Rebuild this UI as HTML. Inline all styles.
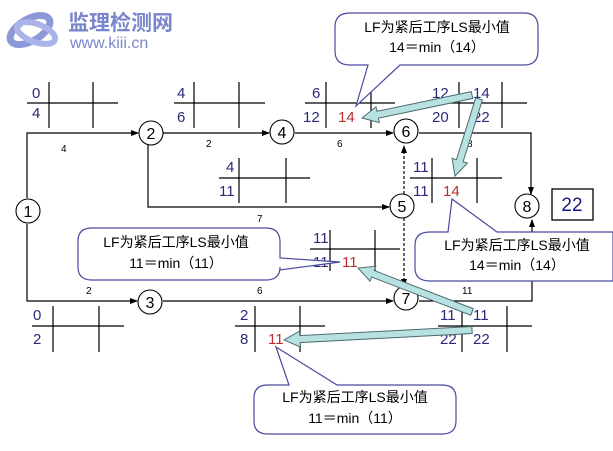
<!DOCTYPE html>
<html><head><meta charset="utf-8"><style>
html,body{margin:0;padding:0;background:#fff;}
svg{display:block;}
text{font-family:"Liberation Sans","Noto Sans CJK SC",sans-serif;}
.n{font-size:15px;fill:#2a2a7a;}
.r{font-size:15px;fill:#b83030;}
.e{font-size:10px;fill:#000;}
.c{font-size:14px;fill:#000;text-anchor:middle;}
.nd{font-size:16px;fill:#000;text-anchor:middle;}
</style></head><body>
<svg id="s" width="613" height="451" viewBox="0 0 613 451" xmlns="http://www.w3.org/2000/svg">
<defs><marker id="a" markerWidth="8" markerHeight="8" refX="7" refY="4" orient="auto" markerUnits="userSpaceOnUse"><path d="M0,1 L8,4 L0,7z" fill="#000"/></marker></defs>
<g>
<ellipse cx="30" cy="30" rx="22" ry="11" fill="none" stroke="#8c98d8" stroke-width="7" transform="rotate(-30 30 30)"/>
<ellipse cx="36" cy="33" rx="20" ry="9" fill="none" stroke="#aab4e8" stroke-width="6" transform="rotate(20 36 33)"/>
<text x="68" y="30" style="font-size:21px;font-weight:bold;fill:#7a86cc;">监理检测网</text>
<text x="70" y="48" style="font-size:16px;fill:#7a86cc;">www.kiii.cn</text>
</g>
<g stroke="#000" stroke-width="1.2" fill="none">
<polyline points="27,198 27,133 138,133" marker-end="url(#a)"/>
<polyline points="27,224 27,301 137,301" marker-end="url(#a)"/>
<line x1="163" y1="133" x2="269" y2="133" marker-end="url(#a)"/>
<polyline points="148,145 148,207 389,207" marker-end="url(#a)"/>
<line x1="295" y1="133" x2="393" y2="133" marker-end="url(#a)"/>
<polyline points="419,133 531,133 531,194" marker-end="url(#a)"/>
<line x1="404" y1="194" x2="404" y2="146" stroke-dasharray="3,2" marker-end="url(#a)"/>
<line x1="404" y1="218" x2="404" y2="286" stroke-dasharray="3,2" marker-end="url(#a)"/>
<line x1="163" y1="301" x2="393" y2="301" marker-end="url(#a)"/>
<polyline points="419,301 532,301 532,220" marker-end="url(#a)"/>
<path d="M27,103H118M49,82V128M93,82V128"/>
<path d="M174,103H265M194,82V128M239,82V128"/>
<path d="M219,178H310M239,158V203M286,158V203"/>
<path d="M305,103H395M326,82V128M371,82V128"/>
<path d="M432,103H527M459,82V128M502,82V128"/>
<path d="M410,178H502M432,158V203M477,158V203"/>
<path d="M310,249H400M330,230V271M375,230V271"/>
<path d="M32,326H124M53,306V352M99,306V352"/>
<path d="M235,326H325M255,306V352M300,306V352"/>
<path d="M438,326H532M462,306V352M507,306V352"/>
<rect x="552" y="189" width="41" height="31" stroke-width="1.3"/>
</g>
<g fill="#fff" stroke="#000" stroke-width="1.1">
<circle cx="28" cy="211" r="12"/><circle cx="151" cy="133" r="12"/><circle cx="150" cy="302" r="12"/>
<circle cx="282" cy="132" r="12"/><circle cx="402" cy="206" r="12"/><circle cx="406" cy="131" r="12"/>
<circle cx="406" cy="298" r="12"/><circle cx="527" cy="206" r="12"/>
</g>
<g>
<text class="nd" x="28" y="217">1</text><text class="nd" x="151" y="139">2</text><text class="nd" x="150" y="308">3</text>
<text class="nd" x="282" y="138">4</text><text class="nd" x="402" y="212">5</text><text class="nd" x="406" y="137">6</text>
<text class="nd" x="406" y="304">7</text><text class="nd" x="527" y="212">8</text>
<text x="572" y="211" style="font-size:19px;fill:#1a1a80;text-anchor:middle;">22</text>
<text class="e" x="61" y="152">4</text><text class="e" x="206" y="147">2</text><text class="e" x="257" y="222">7</text>
<text class="e" x="337" y="147">6</text><text class="e" x="467" y="147">8</text>
<text class="e" x="86" y="294">2</text><text class="e" x="257" y="294">6</text><text class="e" x="462" y="294">11</text>
<text class="n" x="32" y="98">0</text><text class="n" x="32" y="118">4</text>
<text class="n" x="177" y="98">4</text><text class="n" x="177" y="122">6</text>
<text class="n" x="226" y="172">4</text><text class="n" x="219" y="196">11</text>
<text class="n" x="312" y="98">6</text><text class="n" x="303" y="122">12</text><text class="r" x="338" y="122">14</text>
<text class="n" x="432" y="98">12</text><text class="n" x="473" y="98">14</text><text class="n" x="432" y="122">20</text><text class="n" x="473" y="122">22</text>
<text class="n" x="413" y="172">11</text><text class="n" x="413" y="196">11</text><text class="r" x="443" y="196">14</text>
<text class="n" x="313" y="243">11</text><text class="n" x="313" y="267">11</text><text class="r" x="342" y="267">11</text>
<text class="n" x="33" y="320">0</text><text class="n" x="33" y="344">2</text>
<text class="n" x="240" y="320">2</text><text class="n" x="240" y="344">8</text><text class="r" x="268" y="344">11</text>
<text class="n" x="440" y="320">11</text><text class="n" x="473" y="320">11</text><text class="n" x="440" y="344">22</text><text class="n" x="473" y="344">22</text>
</g>
<g fill="#fff" stroke="#4a4aa0" stroke-width="1.2">
<path d="M350,13 H524 Q538,13 538,27 V51 Q538,65 524,65 H400 L356,106 L368,65 H350 Q335,65 335,51 V27 Q335,13 350,13z"/>
<path d="M92,228 H266 Q280,228 280,242 V258 L340,262 L280,270 V267 Q280,280 266,280 H92 Q78,280 78,267 V241 Q78,228 92,228z"/>
<path d="M430,232 H448 L452,199 L497,232 H613 V281 H430 Q415,281 415,268 V245 Q415,232 430,232z"/>
<path d="M268,385 H289 L276,347 L337,385 H442 Q456,385 456,398 V421 Q456,434 442,434 H268 Q254,434 254,421 V398 Q254,385 268,385z"/>
</g>
<g>
<text class="c" x="437" y="32">LF为紧后工序LS最小值</text><text class="c" x="437" y="52">14＝min（14）</text>
<text class="c" x="176" y="247">LF为紧后工序LS最小值</text><text class="c" x="176" y="268">11＝min（11）</text>
<text class="c" x="517" y="250">LF为紧后工序LS最小值</text><text class="c" x="517" y="270">14＝min（14）</text>
<text class="c" x="355" y="402">LF为紧后工序LS最小值</text><text class="c" x="355" y="423">11＝min（11）</text>
</g>
<g id="arr" fill="#b8e2e2" stroke="#4d6a70" stroke-width="1"></g>
</svg>
<script>
function ar(x1,y1,x2,y2){var dx=x2-x1,dy=y2-y1,L=Math.hypot(dx,dy),ux=dx/L,uy=dy/L,px=-uy,py=ux,w=3.5,hw=8,hl=16;
var bx=x2-ux*hl,by=y2-uy*hl;var p=[[x1+px*w,y1+py*w],[bx+px*w,by+py*w],[bx+px*hw,by+py*hw],[x2,y2],[bx-px*hw,by-py*hw],[bx-px*w,by-py*w],[x1-px*w,y1-py*w]];
var e=document.createElementNS("http://www.w3.org/2000/svg","polygon");e.setAttribute("points",p.map(function(q){return q.join(",")}).join(" "));document.getElementById("arr").appendChild(e);}
ar(472,95,362,118);ar(479,99,455,176);ar(472,312,358,268);ar(472,330,284,340);
</script>
</body></html>
